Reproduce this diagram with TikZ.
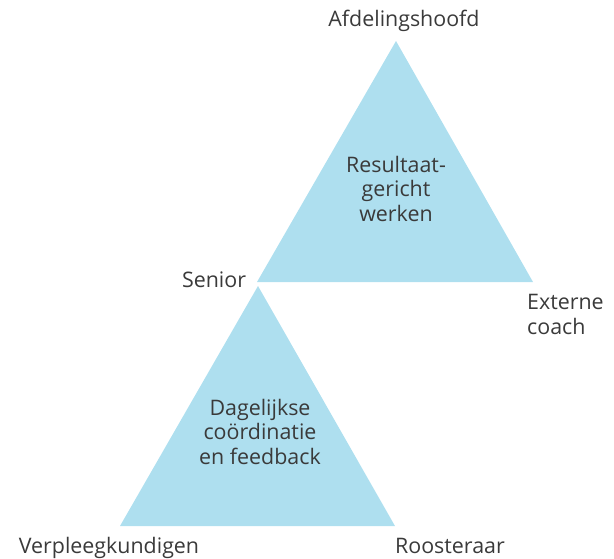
\documentclass[tikz,border=0pt]{standalone}
\usepackage{fontspec}
\setmainfont{Open Sans}
\usepackage{xcolor}
\definecolor{triblue}{HTML}{AEDFEF}
\definecolor{labelgray}{HTML}{3A3A3A}

\begin{document}
\begin{tikzpicture}[x=1pt,y=-1pt,font=\fontsize{21.4}{24.5}\selectfont,text=labelgray]
  \tikzset{tri/.style={fill=triblue, draw=none}, lbl/.style={anchor=base, inner sep=0pt, align=center}, lbll/.style={anchor=base west, inner sep=0pt, align=left}}
  \useasboundingbox (0,0) rectangle (614,558);
  % top triangle
  \coordinate (topA) at (396,41);
  \coordinate (topL) at (257,282);
  \coordinate (topR) at (533,282);
  \fill[tri] (topA) -- (topL) -- (topR) -- cycle;
  % bottom triangle
  \coordinate (botA) at (258,286);
  \coordinate (botL) at (120,526);
  \coordinate (botR) at (395,526);
  \fill[tri] (botA) -- (botL) -- (botR) -- cycle;
  % labels (multi-line nodes sit on their last baseline)
  \node[lbl] (hoofd) at (404,26) {Afdelingshoofd};
  \node[lbl] (senior) at (214,287) {Senior};
  \node[lbll] (coach) at (527,334) {Externe\\coach};
  \node[lbl] (verpl) at (109,553) {Verpleegkundigen};
  \node[lbl] (rooster) at (450,553) {Roosteraar};
  \node[lbl] (result) at (396,221) {Resultaat-\\gericht\\werken};
  \node[lbl] (dagel) at (260,464) {Dagelijkse\\coördinatie\\en feedback};
\end{tikzpicture}
\end{document}
